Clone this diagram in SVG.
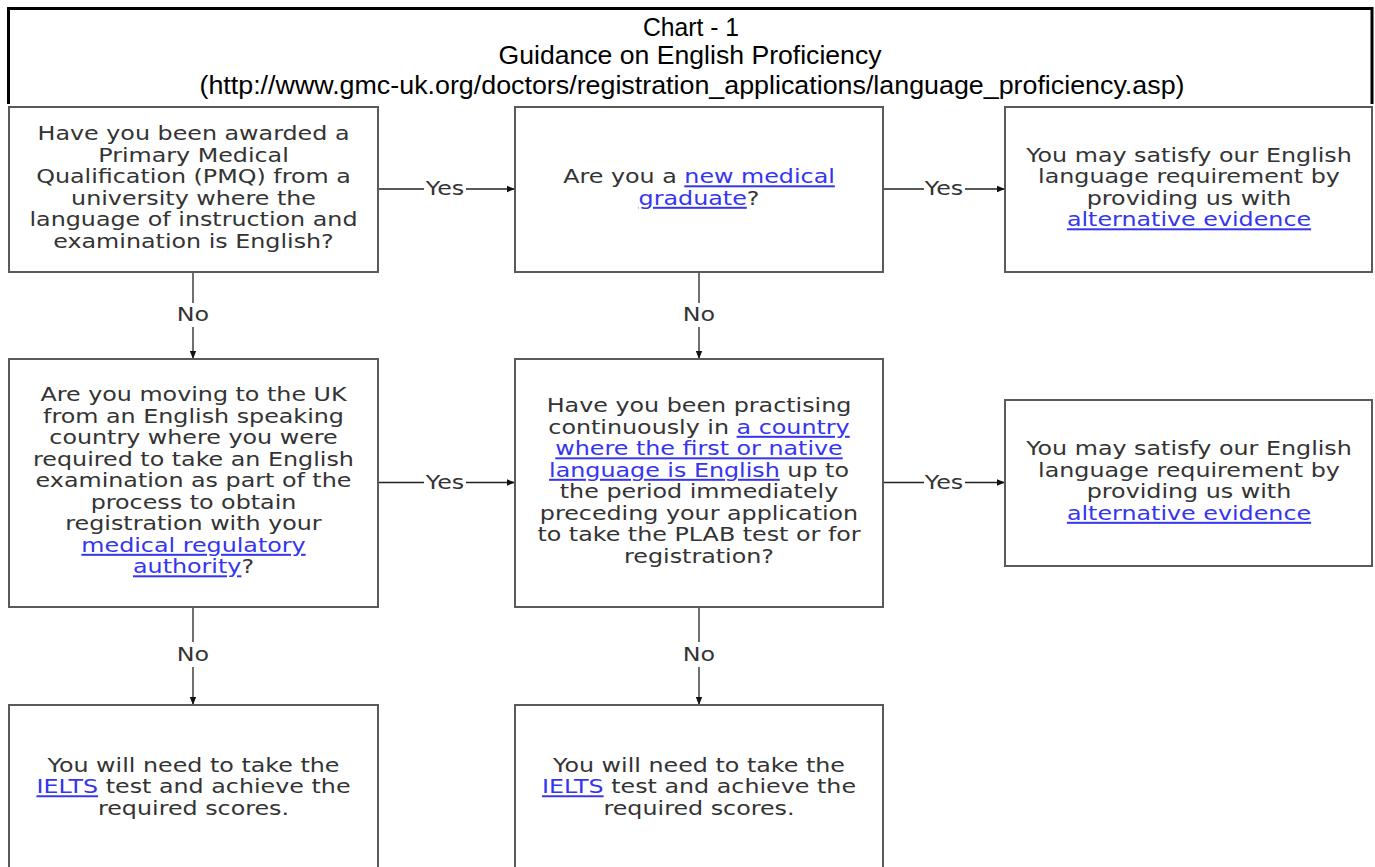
<svg xmlns="http://www.w3.org/2000/svg" width="1375" height="867" viewBox="0 0 1375 867">
<style>
.box{fill:#fff;stroke:#5a5a5a;stroke-width:2}
.t{font-family:"DejaVu Sans",Verdana,sans-serif;font-size:20px;fill:#333;text-anchor:middle}
.b{font-family:"DejaVu Sans",Tahoma,sans-serif;font-size:19.5px;fill:#333;text-anchor:middle}
.lk{fill:#3535f0;text-decoration:underline}
.title{font-family:"Liberation Sans",Arial,sans-serif;font-size:25px;fill:#000;text-anchor:middle}
.c{stroke:#222;stroke-width:1.3;fill:none}
</style>
<defs>
<marker id="ah" viewBox="0 0 10 10" refX="10" refY="5" markerWidth="9" markerHeight="8" markerUnits="userSpaceOnUse" orient="auto"><path d="M0,1 L10,5 L0,9 z" fill="#111"/></marker>
</defs>
<rect width="1375" height="867" fill="#fff"/>
<g id="title">
<path d="M8.5,104 V8.5 H1372 V104" fill="none" stroke="#000" stroke-width="3"/>
<text class="title" x="691" y="36" textLength="96" lengthAdjust="spacingAndGlyphs">Chart - 1</text>
<text class="title" x="690" y="63.5" textLength="383" lengthAdjust="spacingAndGlyphs">Guidance on English Proficiency</text>
<text class="title" x="692" y="94" textLength="985" lengthAdjust="spacingAndGlyphs">(http://www.gmc-uk.org/doctors/registration_applications/language_proficiency.asp)</text>
</g>
<g id="connectors">
<path class="c" d="M378,189 H424"/><path class="c" d="M466,189 H515" marker-end="url(#ah)"/>
<path class="c" d="M883,189 H924"/><path class="c" d="M965,189 H1005" marker-end="url(#ah)"/>
<path class="c" d="M378,482.5 H424"/><path class="c" d="M466,482.5 H515" marker-end="url(#ah)"/>
<path class="c" d="M883,482.5 H924"/><path class="c" d="M965,482.5 H1005" marker-end="url(#ah)"/>
<path class="c" d="M193,272 V303"/><path class="c" d="M193,327 V359" marker-end="url(#ah)"/>
<path class="c" d="M699,272 V303"/><path class="c" d="M699,327 V359" marker-end="url(#ah)"/>
<path class="c" d="M193,607 V642"/><path class="c" d="M193,667 V705" marker-end="url(#ah)"/>
<path class="c" d="M699,607 V642"/><path class="c" d="M699,667 V705" marker-end="url(#ah)"/>
<g transform="translate(445,0) scale(1.19,1)"><text class="t" x="0" y="195.5">Yes</text><text class="t" x="0" y="489">Yes</text></g>
<g transform="translate(944,0) scale(1.19,1)"><text class="t" x="0" y="195.5">Yes</text><text class="t" x="0" y="489">Yes</text></g>
<g transform="translate(193,0) scale(1.19,1)"><text class="t" x="0" y="321">No</text><text class="t" x="0" y="661">No</text></g>
<g transform="translate(699,0) scale(1.19,1)"><text class="t" x="0" y="321">No</text><text class="t" x="0" y="661">No</text></g>
</g>
<g id="nodeA">
<rect class="box" x="9" y="107" width="369" height="165"/>
<g transform="translate(193.5,0) scale(1.19,1)">
<text class="t" x="0" y="140.5">Have you been awarded a</text>
<text class="t" x="0" y="162">Primary Medical</text>
<text class="t" x="0" y="183.5">Qualification (PMQ) from a</text>
<text class="t" x="0" y="205">university where the</text>
<text class="t" x="0" y="226.5">language of instruction and</text>
<text class="t" x="0" y="248">examination is English?</text>
</g>
</g>
<g id="nodeB">
<rect class="box" x="515" y="107" width="368" height="165"/>
<g transform="translate(699,0) scale(1.19,1)">
<text class="t" x="0" y="183.5">Are you a <tspan class="lk">new medical</tspan></text>
<text class="t" x="0" y="205"><tspan class="lk">graduate</tspan>?</text>
</g>
</g>
<g id="nodeC">
<rect class="box" x="1005" y="107" width="367" height="165"/>
<g transform="translate(1189,0) scale(1.19,1)">
<text class="t" x="0" y="162">You may satisfy our English</text>
<text class="t" x="0" y="183.5">language requirement by</text>
<text class="t" x="0" y="205">providing us with</text>
<text class="t" x="0" y="226.5"><tspan class="lk">alternative evidence</tspan></text>
</g>
</g>
<g id="nodeD">
<rect class="box" x="9" y="359" width="369" height="248"/>
<g transform="translate(193.5,0) scale(1.19,1)">
<text class="t" x="0" y="401.5">Are you moving to the UK</text>
<text class="t" x="0" y="423">from an English speaking</text>
<text class="t" x="0" y="444.5">country where you were</text>
<text class="t" x="0" y="466">required to take an English</text>
<text class="t" x="0" y="487.5">examination as part of the</text>
<text class="t" x="0" y="509">process to obtain</text>
<text class="t" x="0" y="530.5">registration with your</text>
<text class="t" x="0" y="552"><tspan class="lk">medical regulatory</tspan></text>
<text class="t" x="0" y="573.5"><tspan class="lk">authority</tspan>?</text>
</g>
</g>
<g id="nodeE">
<rect class="box" x="515" y="359" width="368" height="248"/>
<g transform="translate(699,0) scale(1.19,1)">
<text class="t" x="0" y="412.5">Have you been practising</text>
<text class="t" x="0" y="434">continuously in <tspan class="lk">a country</tspan></text>
<text class="t" x="0" y="455.5"><tspan class="lk">where the first or native</tspan></text>
<text class="t" x="0" y="477"><tspan class="lk">language is English</tspan> up to</text>
<text class="t" x="0" y="498.5">the period immediately</text>
<text class="t" x="0" y="520">preceding your application</text>
<text class="t" x="0" y="541.5">to take the PLAB test or for</text>
<text class="t" x="0" y="563">registration?</text>
</g>
</g>
<g id="nodeF">
<rect class="box" x="1005" y="400" width="367" height="166"/>
<g transform="translate(1189,0) scale(1.19,1)">
<text class="t" x="0" y="455.5">You may satisfy our English</text>
<text class="t" x="0" y="477">language requirement by</text>
<text class="t" x="0" y="498.5">providing us with</text>
<text class="t" x="0" y="520"><tspan class="lk">alternative evidence</tspan></text>
</g>
</g>
<g id="nodeG">
<rect class="box" x="9" y="705" width="369" height="175"/>
<g transform="translate(193.5,0) scale(1.22,1)">
<text class="b" x="0" y="772">You will need to take the</text>
<text class="b" x="0" y="793.5"><tspan class="lk">IELTS</tspan> test and achieve the</text>
<text class="b" x="0" y="815">required scores.</text>
</g>
</g>
<g id="nodeH">
<rect class="box" x="515" y="705" width="368" height="175"/>
<g transform="translate(699,0) scale(1.22,1)">
<text class="b" x="0" y="772">You will need to take the</text>
<text class="b" x="0" y="793.5"><tspan class="lk">IELTS</tspan> test and achieve the</text>
<text class="b" x="0" y="815">required scores.</text>
</g>
</g>
</svg>
